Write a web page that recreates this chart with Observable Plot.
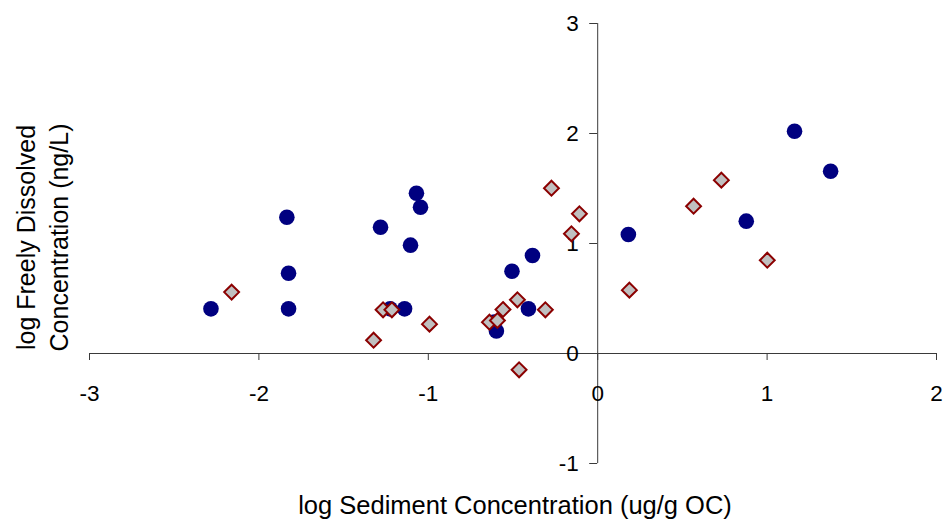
<!DOCTYPE html>
<html>
<head>
<meta charset="utf-8">
<script src="https://cdn.jsdelivr.net/npm/d3@7"></script>
<script src="https://cdn.jsdelivr.net/npm/@observablehq/plot@0.6"></script>
<style>
  html, body { margin: 0; padding: 0; background: #ffffff; }
</style>
</head>
<body>
<div id="chart"></div>
<script>
// Series 1 (navy circles)
const circleX = [-2.283, -1.835, -1.825, -1.825, -1.282, -1.225, -1.140, -1.105, -1.070, -1.046, -0.610, -0.598, -0.506, -0.409, -0.385, 0.181, 0.877, 1.162, 1.375];
const circleY = [0.406, 1.239, 0.730, 0.406, 1.148, 0.406, 0.406, 0.985, 1.457, 1.330, 0.285, 0.205, 0.748, 0.406, 0.891, 1.082, 1.203, 2.021, 1.657];

// Series 2 (grey diamonds, dark red outline)
const diamondX = [-2.161, -1.323, -1.267, -1.215, -0.993, -0.639, -0.592, -0.559, -0.474, -0.464, -0.309, -0.273, -0.155, -0.108, 0.187, 0.566, 0.730, 1.001];
const diamondY = [0.558, 0.121, 0.397, 0.397, 0.267, 0.285, 0.300, 0.400, 0.488, -0.148, 0.397, 1.503, 1.088, 1.270, 0.576, 1.339, 1.576, 0.848];

// Axis ticks and titles
const xTicks = [-3, -2, -1, 0, 1, 2];
const yTicks = [-1, 0, 1, 2, 3];
const xTitle = "log Sediment Concentration (ug/g OC)";
const yTitle = "log Freely Dissolved\nConcentration (ng/L)";

const circles = circleX.map((x, i) => ({x, y: circleY[i]}));
const diamonds = diamondX.map((x, i) => ({x, y: diamondY[i]}));

const axisColor = "#3a3a3a";

const chart = Plot.plot({
  width: 948,
  height: 523,
  marginLeft: 89,
  marginRight: 12,
  marginTop: 23,
  marginBottom: 60,
  x: {domain: [-3, 2], axis: null},
  y: {domain: [-1, 3], axis: null},
  style: {fontFamily: "'Liberation Sans', Arial, Helvetica, sans-serif", background: "#ffffff", color: "#000"},
  marks: [
    // axis lines crossing at origin
    Plot.ruleY([0], {stroke: axisColor, strokeWidth: 1}),
    Plot.ruleX([0], {stroke: axisColor, strokeWidth: 1}),
    // tick marks
    Plot.ruleX(xTicks, {x: d => d, y1: 0, y2: 0, insetBottom: -7, stroke: axisColor}),
    Plot.ruleY(yTicks, {y: d => d, x1: 0, x2: 0, insetLeft: -8, stroke: axisColor}),
    // tick labels
    Plot.text(xTicks, {x: d => d, y: 0, text: d => String(d), dy: 40, fontSize: 22.5, lineAnchor: "middle", textAnchor: "middle", fill: "#000"}),
    Plot.text(yTicks, {x: 0, y: d => d, text: d => String(d), dx: -19, fontSize: 22.5, lineAnchor: "middle", textAnchor: "end", fill: "#000"}),
    // data
    Plot.dot(circles, {x: "x", y: "y", r: 7.8, fill: "#000080"}),
    Plot.dot(diamonds, {x: "x", y: "y", r: 6.7, symbol: "diamond2", fill: "#c0c0c0", stroke: "#8b0000", strokeWidth: 2}),
    // axis titles
    Plot.text([xTitle], {frameAnchor: "bottom", text: d => d, dx: 2, dy: 42, fontSize: 25.5, lineAnchor: "middle", textAnchor: "middle", fill: "#000"}),
    Plot.text([yTitle], {frameAnchor: "left", text: d => d, rotate: -90, dx: -48.5, dy: -6, fontSize: 25, lineHeight: 1.32, lineAnchor: "middle", textAnchor: "middle", fill: "#000"})
  ]
});

document.getElementById("chart").appendChild(chart);
</script>
</body>
</html>
